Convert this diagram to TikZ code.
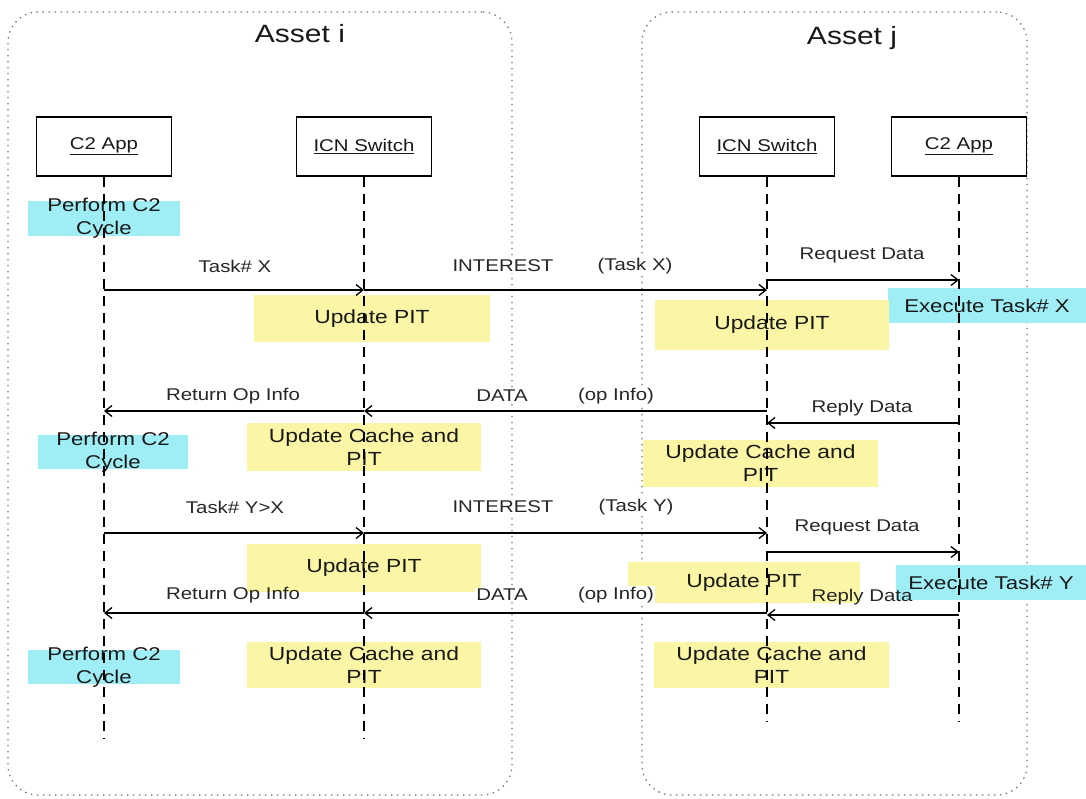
\documentclass[tikz,border=0pt]{standalone}
\usepackage{fontspec}
\setmainfont[FakeStretch=1.2]{Liberation Sans}
\usetikzlibrary{arrows.meta}
\definecolor{cyclecyan}{RGB}{160,238,245}
\definecolor{pityellow}{RGB}{250,246,165}
\def\headw{135pt}
\def\headh{59pt}

\begin{document}
\begin{tikzpicture}[x=1pt,y=-1pt,>={Straight Barb[length=7pt,width=11pt]}]
\tikzset{
  asset/.style={draw=black!55,dash pattern=on 1.5pt off 4.5pt,line width=1.2pt,rounded corners=30pt,minimum height=783pt,inner sep=0pt},
  assettitle/.style={font=\fontsize{25}{28}\selectfont,text=black!90},
  lifehead/.style={draw,line width=1.3pt,fill=white,minimum width=\headw,minimum height=\headh,text=black!90,font=\fontsize{17}{20}\selectfont},
  lifeline/.style={line width=1.3pt,dash pattern=on 10pt off 7pt},
  cyclebox/.style={fill=cyclecyan,inner xsep=0pt,inner ysep=-3pt,align=center,text=black!90,font=\fontsize{18.5}{23}\selectfont},
  pitbox/.style={fill=pityellow,inner sep=0pt,align=center,text=black!90,font=\fontsize{19}{23}\selectfont},
  msg/.style={inner sep=1pt,text=black!85,font=\fontsize{17}{20}\selectfont},
  msgw/.style={msg,fill=white},
  call/.style={->,line width=1.3pt}
}
\useasboundingbox (0,0) rectangle (1086,798);

% the two assets
\node[asset,minimum width=504pt] (asseti) at (260,403.5) {};
\node[asset,minimum width=385pt] (assetj) at (834.5,403.5) {};
\node[assettitle] (titlei) at (300,34) {Asset i};
\node[assettitle] (titlej) at (852,38) {Asset j};

% activity boxes
\node[cyclebox,minimum width=152pt] (cycle1) at (104,218.5) {Perform C2\\Cycle};
\node[cyclebox,minimum width=150pt] (cycle2) at (113,452) {Perform C2\\Cycle};
\node[cyclebox,minimum width=152pt] (cycle3) at (104,667) {Perform C2\\Cycle};
\node[cyclebox,inner ysep=0pt,minimum width=198pt,minimum height=35pt] (exec1) at (987,305.5) {Execute Task\# X};
\node[cyclebox,inner ysep=0pt,minimum width=190pt,minimum height=35pt] (exec2) at (991,582.5) {Execute Task\# Y};
\node[pitbox,minimum width=236pt,minimum height=47pt] (piti1) at (372,318.5) {Update PIT};
\node[pitbox,minimum width=234pt,minimum height=50pt] (pitj1) at (772,325) {Update PIT};
\node[pitbox,minimum width=234pt,minimum height=48pt] (cachei1) at (364,447) {Update Cache and\\PIT};
\node[pitbox,minimum width=235pt,minimum height=47pt] (cachej1) at (760.5,463.5) {Update Cache and\\PIT};
\node[pitbox,minimum width=234pt,minimum height=48pt] (piti2) at (364,568) {Update PIT};
\node[pitbox,minimum width=232pt,minimum height=41pt] (pitj2) at (744,582.5) {Update PIT};
\node[pitbox,minimum width=234pt,minimum height=46pt] (cachei2) at (364,665) {Update Cache and\\PIT};
\node[pitbox,minimum width=235pt,minimum height=46pt] (cachej2) at (771.5,665) {Update Cache and\\PIT};

% message labels
\node[msg] (ltaskx) at (235,266) {Task\# X};
\node[msgw] (lint1) at (503,266) {INTEREST};
\node[msgw] (ltx) at (635,266) {(Task X)};
\node[msg] (lreq1) at (862,255) {Request Data};
\node[msg] (lret1) at (233,396) {Return Op Info};
\node[msgw] (ldata1) at (502,396) {DATA};
\node[msgw] (lop1) at (616,396) {(op Info)};
\node[msg] (lrep1) at (862,408) {Reply Data};
\node[msg] (ltasky) at (235,507) {Task\# Y>X};
\node[msgw] (lint2) at (503,507) {INTEREST};
\node[msgw] (lty) at (636,507) {(Task Y)};
\node[msg] (lreq2) at (857,527) {Request Data};
\node[msg] (lret2) at (233,595) {Return Op Info};
\node[msgw] (ldata2) at (502,595) {DATA};
\node[msgw] (lop2) at (616,595) {(op Info)};
\node[msg] (lrep2) at (862,597) {Reply Data};

% lifelines
\node[lifehead] (appi) at (104,146.5) {\underline{C2 App}};
\node[lifehead] (swi) at (364,146.5) {\underline{ICN Switch}};
\node[lifehead] (swj) at (767,146.5) {\underline{ICN Switch}};
\node[lifehead] (appj) at (959,146.5) {\underline{C2 App}};
\coordinate (appiend) at (104,738);
\coordinate (swiend) at (364,738);
\coordinate (swjend) at (767,722);
\coordinate (appjend) at (959,722);
\draw[lifeline] (appi) -- (appiend);
\draw[lifeline] (swi) -- (swiend);
\draw[lifeline] (swj) -- (swjend);
\draw[lifeline] (appj) -- (appjend);

% message end points
\coordinate (appi1) at (104,290);
\coordinate (swi1) at (364,290);
\coordinate (swj1) at (767,290);
\coordinate (swj2) at (767,280);
\coordinate (appj2) at (959,280);
\coordinate (swj3) at (767,411);
\coordinate (swi3) at (364,411);
\coordinate (appi3) at (104,411);
\coordinate (appj4) at (959,423);
\coordinate (swj4) at (767,423);
\coordinate (appi5) at (104,533);
\coordinate (swi5) at (364,533);
\coordinate (swj5) at (767,533);
\coordinate (swj6) at (767,552);
\coordinate (appj6) at (959,552);
\coordinate (swj7) at (767,613);
\coordinate (swi7) at (364,613);
\coordinate (appi7) at (104,613);
\coordinate (appj8) at (959,615);
\coordinate (swj8) at (767,615);

\draw[call] (appi1) -- (swi1);
\draw[call] (swi1) -- (swj1);
\draw[call] (swj2) -- (appj2);
\draw[call] (swj3) -- (swi3);
\draw[call] (swi3) -- (appi3);
\draw[call] (appj4) -- (swj4);
\draw[call] (appi5) -- (swi5);
\draw[call] (swi5) -- (swj5);
\draw[call] (swj6) -- (appj6);
\draw[call] (swj7) -- (swi7);
\draw[call] (swi7) -- (appi7);
\draw[call] (appj8) -- (swj8);
\end{tikzpicture}
\end{document}
